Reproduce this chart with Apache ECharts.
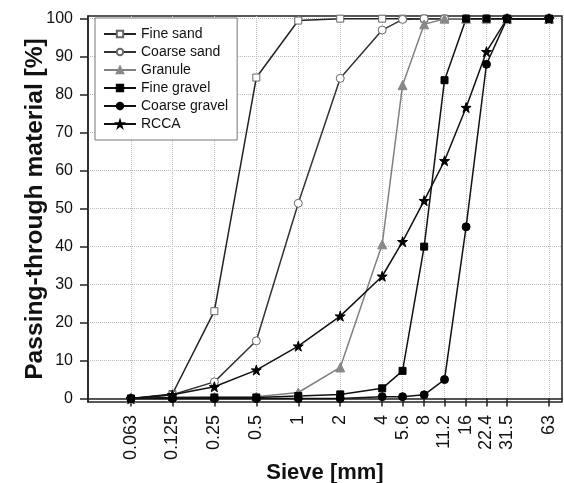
<!DOCTYPE html>
<html>
<head>
<meta charset="utf-8">
<script src="https://cdn.jsdelivr.net/npm/echarts@6/dist/echarts.min.js"></script>
<style>
  html, body { margin: 0; padding: 0; background: #fff; }
  #chart { width: 564px; height: 483px; }
</style>
</head>
<body>
<div id="chart"></div>
<script>
// sieve sizes [mm] and their tick labels
const sieves = [0.063, 0.125, 0.25, 0.5, 1, 2, 4, 5.6, 8, 11.2, 16, 22.4, 31.5, 63];
const sieveLabels = ['0.063', '0.125', '0.25', '0.5', '1', '2', '4', '5.6', '8', '11.2', '16', '22.4', '31.5', '63'];
const yTicks = [0, 10, 20, 30, 40, 50, 60, 70, 80, 90, 100];

// passing-through material [%] per sieve
const fineSand     = [0, 1.2, 23, 84.5, 99.5, 100, 100, 100, 100, 100, 100, 100, 100, 100];
const coarseSand   = [0, 1, 4.4, 15.2, 51.4, 84.3, 97, 99.8, 100, 100, 100, 100, 100, 100];
const granule      = [0, 0.3, 0.4, 0.5, 1.6, 8.2, 40.6, 82.5, 98.5, 100, 100, 100, 100, 100];
const fineGravel   = [0, 0.3, 0.3, 0.3, 0.7, 1.1, 2.7, 7.3, 40, 83.8, 100, 100, 100, 100];
const coarseGravel = [0, 0, 0, 0, 0, 0, 0.5, 0.5, 1, 5, 45.2, 88, 100, 100];
const rcca         = [0, 1, 3.1, 7.5, 13.8, 21.7, 32.2, 41.3, 52.1, 62.6, 76.6, 91.3, 100, 100];

const STAR = 'path://M50 0 L61.2 34.5 L97.6 34.5 L68.2 55.9 L79.4 90.5 L50 69.1 L20.6 90.5 L31.8 55.9 L2.4 34.5 L38.8 34.5 Z';
const FONT = 'Liberation Sans';

function pairs(values) {
  return sieves.map((s, i) => [s, values[i]]);
}

function sieveLabel(value) {
  let best = 0;
  sieves.forEach((s, i) => {
    if (Math.abs(Math.log(s) - Math.log(value)) < Math.abs(Math.log(sieves[best]) - Math.log(value))) best = i;
  });
  return sieveLabels[best];
}

function makeSeries(name, values, symbol, size, fill, border, lineColor) {
  return {
    name: name,
    type: 'line',
    data: pairs(values),
    symbol: symbol,
    symbolSize: size,
    showAllSymbol: true,
    lineStyle: { color: lineColor, width: 1.5 },
    itemStyle: { color: fill, borderColor: border, borderWidth: 1 },
    emphasis: { disabled: true },
    z: 3,
  };
}

const chart = echarts.init(document.getElementById('chart'), null, { renderer: 'canvas' });

chart.setOption({
  animation: false,
  textStyle: { fontFamily: FONT },
  grid: {
    left: 88, right: 2, top: 16, bottom: 81,
    containLabel: false,
    outerBoundsMode: 'none',
    show: true, borderColor: '#222', borderWidth: 1.5,
  },
  legend: {
    orient: 'vertical',
    left: 95, top: 18,
    padding: [9, 9, 9, 8],
    itemWidth: 32, itemHeight: 8, itemGap: 4, itemTextGap: 6,
    backgroundColor: '#fff',
    borderColor: '#777', borderWidth: 1,
    textStyle: { fontFamily: FONT, fontSize: 14, color: '#111' },
    selectedMode: false,
  },
  xAxis: {
    type: 'log',
    logBase: 2,
    min: 0.031, max: 78,
    name: 'Sieve [mm]',
    nameLocation: 'middle',
    nameGap: 60,
    nameMoveOverlap: false,
    nameTextStyle: { fontFamily: FONT, fontSize: 22, fontWeight: 'bold', color: '#111' },
    axisLine: { show: true, lineStyle: { color: '#222', width: 1.5 } },
    axisTick: { show: true, length: 8, customValues: sieves, lineStyle: { color: '#222', width: 1.5 } },
    axisLabel: {
      customValues: sieves,
      rotate: 90, margin: 13,
      fontFamily: FONT, fontSize: 18, color: '#111',
      formatter: (value) => sieveLabel(value),
    },
    splitLine: { show: true, lineStyle: { color: '#bbb', type: 'dotted', width: 1 } },
    minorTick: { show: false },
    minorSplitLine: { show: false },
  },
  yAxis: {
    type: 'value',
    min: -0.9, max: 100.7,
    name: 'Passing-through material [%]',
    nameLocation: 'middle',
    nameGap: 40,
    nameMoveOverlap: false,
    nameTextStyle: { fontFamily: FONT, fontSize: 24.6, fontWeight: 'bold', color: '#111' },
    axisLine: { show: true, lineStyle: { color: '#222', width: 1.5 } },
    axisTick: { show: true, length: 8, customValues: yTicks, lineStyle: { color: '#222', width: 1.5 } },
    axisLabel: {
      customValues: yTicks,
      margin: 15,
      fontFamily: FONT, fontSize: 16, color: '#111',
    },
    splitLine: { show: true, lineStyle: { color: '#bbb', type: 'dotted', width: 1 } },
  },
  series: [
    makeSeries('Fine sand', fineSand, 'rect', 7, '#fff', '#666', '#222'),
    makeSeries('Coarse sand', coarseSand, 'circle', 8, '#fff', '#666', '#333'),
    makeSeries('Granule', granule, 'triangle', 9, '#888', '#888', '#808080'),
    makeSeries('Fine gravel', fineGravel, 'rect', 7, '#000', '#000', '#111'),
    makeSeries('Coarse gravel', coarseGravel, 'circle', 8, '#000', '#000', '#111'),
    makeSeries('RCCA', rcca, STAR, 10, '#000', '#000', '#111'),
  ],
});
</script>
</body>
</html>
